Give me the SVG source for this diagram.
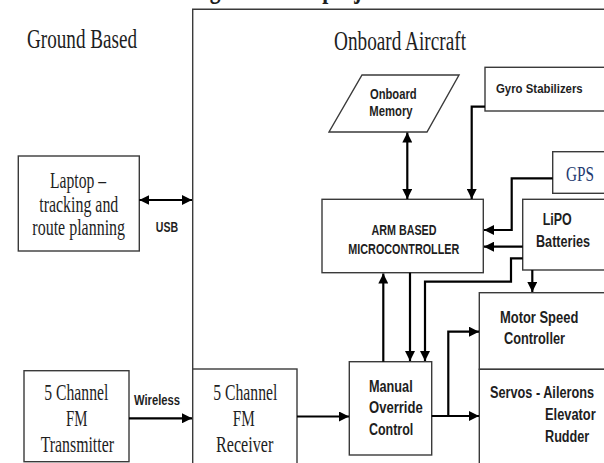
<svg xmlns="http://www.w3.org/2000/svg" width="604" height="463" viewBox="0 0 604 463">
<style>
.box{fill:#fff;stroke:#3a3a3a;stroke-width:1.4}
.frame{fill:none;stroke:#3a3a3a;stroke-width:1.4}
.serif{font-family:"Liberation Serif","Times New Roman",serif;fill:#1e1e1e}
.sans{font-family:"Liberation Sans",Arial,sans-serif;font-weight:bold;fill:#1e1e1e}
.conn{fill:none;stroke:#000;stroke-width:2.2}
.mid{text-anchor:middle}
</style>
<defs>
<marker id="ah" markerUnits="userSpaceOnUse" markerWidth="10" markerHeight="10" refX="10" refY="5" orient="auto-start-reverse" viewBox="0 0 10 10">
<path d="M0,0 L10,5 L0,10 z" fill="#000"/>
</marker>
</defs>
<rect width="604" height="463" fill="#fff"/>

<text class="serif" x="119" y="-2.5" font-size="30" font-weight="bold" textLength="269" lengthAdjust="spacingAndGlyphs">Block Diagram of the project</text>

<g id="frame">
<path class="frame" d="M192.7,369 V9.3 H606"/>
<text class="serif mid" x="82" y="48" font-size="27" textLength="110" lengthAdjust="spacingAndGlyphs">Ground Based</text>
<text class="serif mid" x="400" y="50" font-size="27" textLength="132" lengthAdjust="spacingAndGlyphs">Onboard Aircraft</text>
</g>

<g id="laptop">
<rect class="box" x="18.3" y="156" width="121" height="95"/>
<text class="serif mid" x="78" y="188.3" font-size="23" textLength="56" lengthAdjust="spacingAndGlyphs">Laptop –</text>
<text class="serif mid" x="78.8" y="211.7" font-size="23" textLength="79" lengthAdjust="spacingAndGlyphs">tracking and</text>
<text class="serif mid" x="78.7" y="235" font-size="23" textLength="92.7" lengthAdjust="spacingAndGlyphs">route planning</text>
</g>

<g id="transmitter">
<rect class="box" x="24" y="370.7" width="105" height="91"/>
<text class="serif mid" x="76.3" y="400" font-size="23" textLength="64" lengthAdjust="spacingAndGlyphs">5 Channel</text>
<text class="serif mid" x="76.7" y="426" font-size="23" textLength="21.5" lengthAdjust="spacingAndGlyphs">FM</text>
<text class="serif mid" x="77.3" y="451.7" font-size="23" textLength="73.3" lengthAdjust="spacingAndGlyphs">Transmitter</text>
</g>

<g id="receiver">
<rect class="box" x="192.7" y="369" width="104.3" height="100"/>
<text class="serif mid" x="245.3" y="400" font-size="23" textLength="64" lengthAdjust="spacingAndGlyphs">5 Channel</text>
<text class="serif mid" x="243.8" y="426" font-size="23" textLength="22" lengthAdjust="spacingAndGlyphs">FM</text>
<text class="serif mid" x="244.7" y="451.7" font-size="23" textLength="57.3" lengthAdjust="spacingAndGlyphs">Receiver</text>
</g>

<g id="memory">
<path class="box" d="M362,75 H459 L427,132 H329 Z"/>
<text class="sans mid" x="393.3" y="99.3" font-size="14" textLength="46.7" lengthAdjust="spacingAndGlyphs">Onboard</text>
<text class="sans mid" x="391" y="115.5" font-size="14" textLength="43.3" lengthAdjust="spacingAndGlyphs">Memory</text>
</g>

<g id="gyro">
<rect class="box" x="485" y="67.3" width="125" height="43.7"/>
<text class="sans" x="496" y="92.7" font-size="13" textLength="86.7" lengthAdjust="spacingAndGlyphs">Gyro Stabilizers</text>
</g>

<g id="gps">
<rect class="box" x="552.7" y="151.7" width="60" height="41.6"/>
<text class="serif mid" x="580" y="181" font-size="21" fill="#1f3a70" style="fill:#1f3a70" textLength="28" lengthAdjust="spacingAndGlyphs">GPS</text>
</g>

<g id="arm">
<rect class="box" x="322" y="199.3" width="161.3" height="73.4"/>
<text class="sans mid" x="404" y="235" font-size="15" textLength="65" lengthAdjust="spacingAndGlyphs">ARM BASED</text>
<text class="sans mid" x="403.8" y="254" font-size="15" textLength="111" lengthAdjust="spacingAndGlyphs">MICROCONTROLLER</text>
</g>

<g id="lipo">
<rect class="box" x="522.7" y="199.3" width="90" height="70.7"/>
<text class="sans" x="542.7" y="225" font-size="16" textLength="29" lengthAdjust="spacingAndGlyphs">LiPO</text>
<text class="sans" x="536" y="247.3" font-size="16" textLength="54" lengthAdjust="spacingAndGlyphs">Batteries</text>
</g>

<g id="motor">
<rect class="box" x="479.3" y="292.7" width="133" height="76.6"/>
<text class="sans" x="500" y="322.7" font-size="16" textLength="78.3" lengthAdjust="spacingAndGlyphs">Motor Speed</text>
<text class="sans" x="504" y="344" font-size="16" textLength="61" lengthAdjust="spacingAndGlyphs">Controller</text>
</g>

<g id="servos">
<rect class="box" x="479.3" y="369.3" width="133" height="100"/>
<text class="sans" x="490" y="398.3" font-size="16" textLength="104" lengthAdjust="spacingAndGlyphs">Servos - Ailerons</text>
<text class="sans" x="545" y="420" font-size="16" textLength="50.7" lengthAdjust="spacingAndGlyphs">Elevator</text>
<text class="sans" x="545" y="441.7" font-size="16" textLength="44.3" lengthAdjust="spacingAndGlyphs">Rudder</text>
</g>

<g id="manual">
<rect class="box" x="349.3" y="361.7" width="82.4" height="93.3"/>
<text class="sans" x="369" y="392.3" font-size="17" textLength="43.7" lengthAdjust="spacingAndGlyphs">Manual</text>
<text class="sans" x="369" y="413.3" font-size="17" textLength="53.7" lengthAdjust="spacingAndGlyphs">Override</text>
<text class="sans" x="369" y="435" font-size="17" textLength="44.3" lengthAdjust="spacingAndGlyphs">Control</text>
</g>

<g id="connectors">
<path class="conn" d="M139.3,200 H192" marker-start="url(#ah)" marker-end="url(#ah)"/>
<text class="sans mid" x="167" y="231.7" font-size="14" textLength="22.3" lengthAdjust="spacingAndGlyphs">USB</text>
<path class="conn" d="M129,418.3 H192" marker-end="url(#ah)"/>
<text class="sans mid" x="157" y="405" font-size="14" textLength="46" lengthAdjust="spacingAndGlyphs">Wireless</text>
<path class="conn" d="M297,416.5 H349" marker-end="url(#ah)"/>
<path class="conn" d="M407.3,132.5 V199" marker-start="url(#ah)" marker-end="url(#ah)"/>
<path class="conn" d="M485,106.7 H471.7 V199" marker-end="url(#ah)"/>
<path class="conn" d="M552.7,178.3 H511.7 V230 H484" marker-end="url(#ah)"/>
<path class="conn" d="M522.7,246.7 H484" marker-end="url(#ah)"/>
<path class="conn" d="M522.7,258.3 H511 V281.7 H425 V361" marker-end="url(#ah)"/>
<path class="conn" d="M532.3,270 V292" marker-end="url(#ah)"/>
<path class="conn" d="M410,272.7 V361" marker-end="url(#ah)"/>
<path class="conn" d="M383.3,361.7 V273.5" marker-end="url(#ah)"/>
<path class="conn" d="M431.7,416 H479" marker-end="url(#ah)"/>
<path class="conn" d="M448.3,416 V331.7 H479" marker-end="url(#ah)"/>
</g>
</svg>
